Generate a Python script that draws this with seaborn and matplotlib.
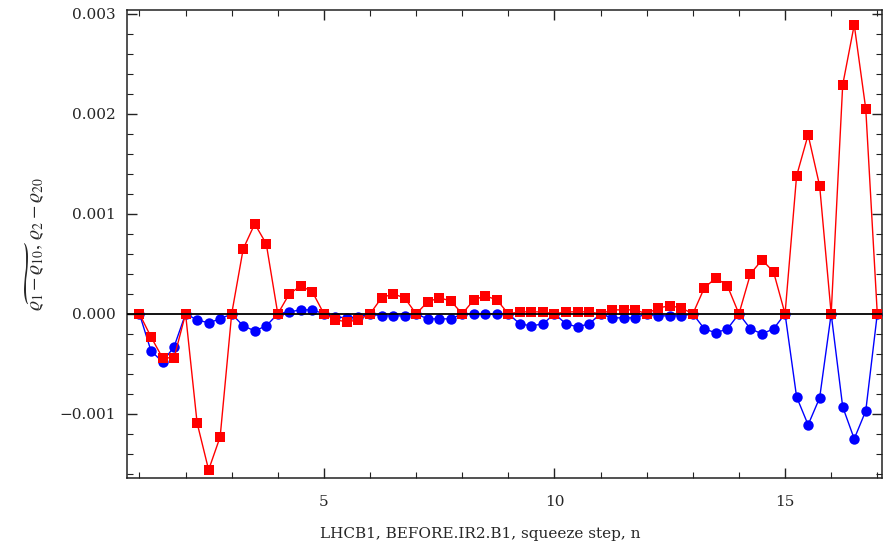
import numpy as np
import pandas as pd
import seaborn as sns
import matplotlib.pyplot as plt
from matplotlib.ticker import MultipleLocator, FuncFormatter

# squeeze step positions (4 sub-steps per step)
passo = [1 + 0.25 * k for k in range(65)]

# red curve (squares)
vermelho = [0, -0.00023, -0.00044, -0.00044, 0, -0.00109, -0.00156, -0.00123,
            0, 0.00065, 0.00090, 0.00070, 0, 0.00020, 0.00028, 0.00022,
            0, -0.00006, -0.00008, -0.00006, 0, 0.00016, 0.00020, 0.00016,
            0, 0.00012, 0.00016, 0.00013, 0, 0.00014, 0.00018, 0.00014,
            0, 0.00002, 0.00002, 0.00002, 0, 0.00002, 0.00002, 0.00002,
            0, 0.00004, 0.00004, 0.00004, 0, 0.00006, 0.00008, 0.00006,
            0, 0.00026, 0.00036, 0.00028, 0, 0.00040, 0.00054, 0.00042,
            0, 0.00138, 0.00179, 0.00128, 0, 0.00229, 0.00289, 0.00205,
            0]

# blue curve (circles)
azul = [0, -0.00037, -0.00048, -0.00033, 0, -0.00006, -0.00009, -0.00005,
        0, -0.00012, -0.00017, -0.00012, 0, 0.00002, 0.00004, 0.00004,
        0, -0.00003, -0.00004, -0.00003, 0, -0.00002, -0.00002, -0.00002,
        0, -0.00005, -0.00005, -0.00005, 0, 0.0, 0.0, 0.0,
        0, -0.00010, -0.00012, -0.00010, 0, -0.00010, -0.00013, -0.00010,
        0, -0.00004, -0.00004, -0.00004, 0, -0.00002, -0.00002, -0.00002,
        0, -0.00015, -0.00019, -0.00015, 0, -0.00015, -0.00020, -0.00015,
        0, -0.00083, -0.00111, -0.00084, 0, -0.00093, -0.00125, -0.00097,
        0]

df = pd.DataFrame({'n': passo, 'vermelho': vermelho, 'azul': azul})

sns.set_style('ticks')
plt.rcParams['font.family'] = ['DejaVu Serif']
plt.rcParams['mathtext.fontset'] = 'stix'

fig = plt.figure(figsize=(8.85, 5.48), dpi=100)
ax = fig.add_axes([0.1435, 0.128, 0.853, 0.854])

sns.lineplot(x='n', y='azul', data=df, color='#0000ff', marker='o',
             markersize=7.5, markeredgewidth=0, lw=1.0, ax=ax, zorder=2)
sns.lineplot(x='n', y='vermelho', data=df, color='#ff0000', marker='s',
             markersize=7.5, markeredgewidth=0, lw=1.0, ax=ax, zorder=3)

ax.axhline(0, color='black', lw=1.3, zorder=4)

ax.set_xlim(0.73, 17.1)
ax.set_ylim(-0.00164, 0.00304)

ax.xaxis.set_major_locator(MultipleLocator(5))
ax.xaxis.set_minor_locator(MultipleLocator(1))
ax.yaxis.set_major_locator(MultipleLocator(0.001))
ax.yaxis.set_minor_locator(MultipleLocator(0.0002))
ax.yaxis.set_major_formatter(FuncFormatter(lambda v, p: f'{v:.3f}'.replace('-', '\u2212')))

ax.tick_params(which='both', direction='in', top=True, right=True,
               labelsize=11, color='#222222')
ax.tick_params(which='major', length=7, width=1)
ax.tick_params(which='minor', length=4, width=0.8)
ax.tick_params(axis='x', which='major', pad=12)
ax.tick_params(axis='y', which='major', pad=8)
for s in ax.spines.values():
    s.set_linewidth(1.1)
    s.set_color('#222222')

ax.set_xlabel('LHCB1, BEFORE.IR2.B1, squeeze step, n', fontsize=11)
ax.xaxis.set_label_coords(0.468, -0.104)
ax.set_ylabel(r'$\widetilde{\varrho_1-\varrho_{10}},\, \varrho_2-\varrho_{20}$',
              fontsize=14, labelpad=9)

fig.savefig('out.png', dpi=100)
